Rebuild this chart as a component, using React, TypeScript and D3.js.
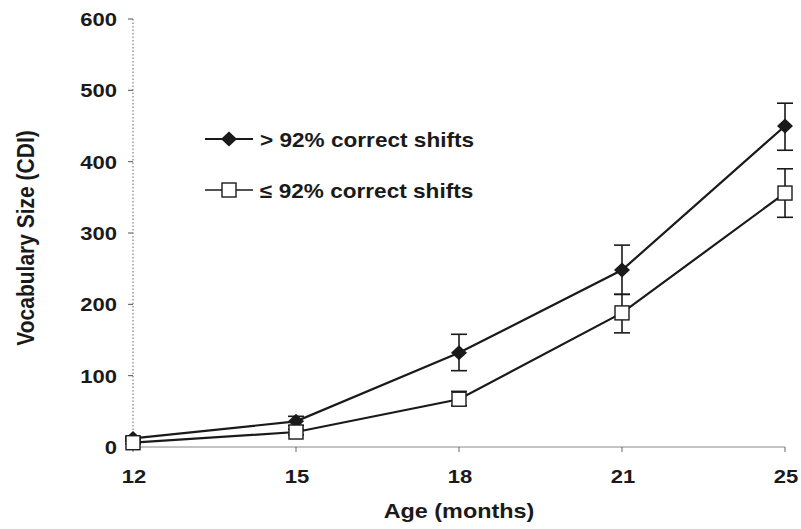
import React from "react";
import * as d3 from "d3";

const ages = ["12", "15", "18", "21", "25"];
const highMean = [12, 36, 132, 248, 450];
const highLo = [10, 30, 107, 214, 416];
const highHi = [14, 43, 158, 283, 482];
const lowMean = [6, 21, 67, 188, 356];
const lowLo = [4, 17, 58, 160, 322];
const lowHi = [8, 25, 78, 214, 390];
const yTicks = [0, 100, 200, 300, 400, 500, 600];
const legendLabels = ["> 92% correct shifts", "\u2264 92% correct shifts"];

export default function App() {
  const W = 801, H = 529;
  const x = d3.scalePoint<string>().domain(ages).range([133, 785]);
  const y = d3.scaleLinear().domain([0, 600]).range([447, 19]);
  const line = d3.line<number>().x((_, i) => x(ages[i])!).y((d) => y(d));
  const ink = "#1a1a1a";
  const font = "'Liberation Sans', Arial, sans-serif";
  const SX = 1.16;

  const T = (props: { x: number; y: number; anchor: string; size: number; sx?: number; dy?: string; children: React.ReactNode }) => (
    <text
      transform={`translate(${props.x},${props.y}) scale(${props.sx ?? SX},1)`}
      textAnchor={props.anchor}
      dy={props.dy}
      fontSize={props.size}
      fontWeight="bold"
      fill={ink}
    >
      {props.children}
    </text>
  );

  const errBars = (lo: number[], hi: number[], key: string) =>
    ages.map((a, i) => {
      const cx = x(a)!;
      return (
        <g key={key + i} stroke={ink} strokeWidth={1.6}>
          <line x1={cx} x2={cx} y1={y(lo[i])} y2={y(hi[i])} />
          <line x1={cx - 8} x2={cx + 8} y1={y(lo[i])} y2={y(lo[i])} />
          <line x1={cx - 8} x2={cx + 8} y1={y(hi[i])} y2={y(hi[i])} />
        </g>
      );
    });

  const diamond = (cx: number, cy: number, k: string) => (
    <path key={k} d={`M${cx},${cy - 7.5}L${cx + 8},${cy}L${cx},${cy + 7.5}L${cx - 8},${cy}Z`} fill={ink} />
  );
  const square = (cx: number, cy: number, k: string) => (
    <rect key={k} x={cx - 7} y={cy - 7} width={14} height={14} fill="#fff" stroke={ink} strokeWidth={1.4} />
  );

  return (
    <svg width={W} height={H} style={{ display: "block", position: "absolute", left: 0, top: 0 }} fontFamily={font}>
      <rect width={W} height={H} fill="#fff" />
      {/* y axis dotted */}
      <line x1={133} x2={133} y1={y(600)} y2={y(0)} stroke="#666" strokeWidth={1} strokeDasharray="1.5,2" />
      {yTicks.map((t) => (
        <g key={t}>
          <line x1={128} x2={133} y1={y(t)} y2={y(t)} stroke="#555" strokeWidth={1} />
          <T x={117} y={y(t)} anchor="end" size={19} dy="0.36em">{t}</T>
        </g>
      ))}
      {/* x axis */}
      <line x1={133} x2={785} y1={y(0)} y2={y(0)} stroke="#888" strokeWidth={1.2} />
      {ages.map((a) => (
        <g key={a}>
          <line x1={x(a)} x2={x(a)} y1={y(0)} y2={y(0) + 5} stroke="#666" strokeWidth={1} />
          <T x={x(a)! + 1} y={483} anchor="middle" size={19}>{a}</T>
        </g>
      ))}
      <T x={459} y={518} anchor="middle" size={19.5} sx={1.2}>Age (months)</T>
      <text
        transform={`translate(34,238) scale(${SX},1) rotate(-90)`}
        textAnchor="middle"
        fontSize={21}
        fontWeight="bold"
        fill={ink}
      >
        Vocabulary Size (CDI)
      </text>

      {errBars(highLo, highHi, "h")}
      {errBars(lowLo, lowHi, "l")}
      <path d={line(highMean)!} fill="none" stroke={ink} strokeWidth={2.2} />
      <path d={line(lowMean)!} fill="none" stroke={ink} strokeWidth={2.2} />
      {highMean.map((v, i) => diamond(x(ages[i])!, y(v), "d" + i))}
      {lowMean.map((v, i) => square(x(ages[i])!, y(v), "s" + i))}

      {/* legend */}
      <line x1={205} x2={253} y1={139} y2={139} stroke={ink} strokeWidth={2} />
      {diamond(229, 139, "ld")}
      <T x={260} y={140} anchor="start" size={20} sx={1.13} dy="0.36em">{legendLabels[0]}</T>
      <line x1={205} x2={253} y1={190} y2={190} stroke={ink} strokeWidth={1.6} />
      {square(229, 190, "ls")}
      <T x={260} y={191} anchor="start" size={20} sx={1.13} dy="0.36em">{legendLabels[1]}</T>
    </svg>
  );
}
